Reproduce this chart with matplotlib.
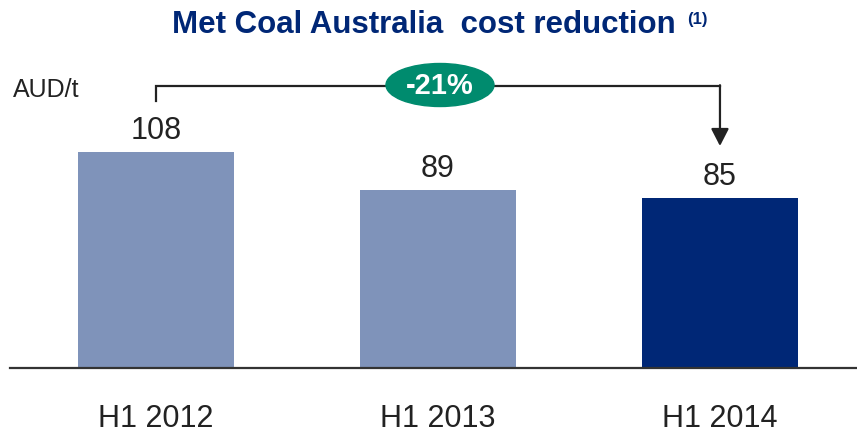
import matplotlib
matplotlib.use("Agg")
import matplotlib.pyplot as plt
from matplotlib.patches import Ellipse

plt.rcParams['font.family'] = ['Liberation Sans', 'DejaVu Sans']

# Datos
periodos = ["H1 2012", "H1 2013", "H1 2014"]
costos = [108, 89, 85]
reduccion = "-21%"

# Colores
azul_claro = "#7F93BA"
azul_oscuro = "#002776"
verde = "#008B6E"
gris = "#222222"

Ancho, Alto = 8.57, 4.35
Figura = plt.figure(figsize=(Ancho, Alto), dpi=100)
Grafico = Figura.add_axes([10/857, 66/435, 847/857, 369/435])

x = range(len(periodos))
colores = [azul_claro, azul_claro, azul_oscuro]
Grafico.bar(x, costos, width=0.553, color=colores, zorder=2)

Grafico.set_xlim(-0.518, 2.486)
Grafico.set_ylim(0, 184.5)

for lado in ["top", "right", "left"]:
    Grafico.spines[lado].set_visible(False)
Grafico.spines["bottom"].set_color("#333333")
Grafico.spines["bottom"].set_linewidth(1.6)
Grafico.set_yticks([])
Grafico.set_xticks(list(x))
Grafico.set_xticklabels(periodos, fontsize=22, color=gris)
Grafico.tick_params(axis="x", length=0, pad=25)

# Valores encima de cada barra
for i, v in enumerate(costos):
    Grafico.annotate(str(v), (i, v), xytext=(0, 10), textcoords="offset points",
                     ha="center", va="baseline", fontsize=22, color=gris)

# Corchete con flecha entre la primera y la ultima barra
y_corchete = 141
Grafico.plot([0, 0, 2], [133.5, y_corchete, y_corchete], color=gris, lw=1.6,
             solid_joinstyle="miter", zorder=3)
Grafico.annotate("", xy=(2, 111), xytext=(2, y_corchete + 0.4),
                 arrowprops=dict(arrowstyle="-|>,head_width=0.54,head_length=1.05",
                                 color=gris, lw=1.6, shrinkA=0, shrinkB=0), zorder=3)

# Etiqueta de la reduccion en un ovalo verde
Grafico.add_patch(Ellipse((1.007, 141.5), 0.383, 21.5, color=verde, zorder=4))
Grafico.text(1.007, 141.5, reduccion, ha="center", va="center", fontsize=21,
             fontweight="bold", color="white", zorder=5)

# Titulo y unidad
Figura.text(423.5/857, 1 - 33/435, "Met Coal Australia  cost reduction",
            ha="center", va="baseline", fontsize=22.5, fontweight="bold", color=azul_oscuro)
Figura.text(687/857, 1 - 24/435, "(1)", ha="left", va="baseline", fontsize=12,
            fontweight="bold", color=azul_oscuro)
Figura.text(13/857, 1 - 97/435, "AUD/t", ha="left", va="baseline", fontsize=18, color=gris)

Figura.savefig("out.png", dpi=100)
